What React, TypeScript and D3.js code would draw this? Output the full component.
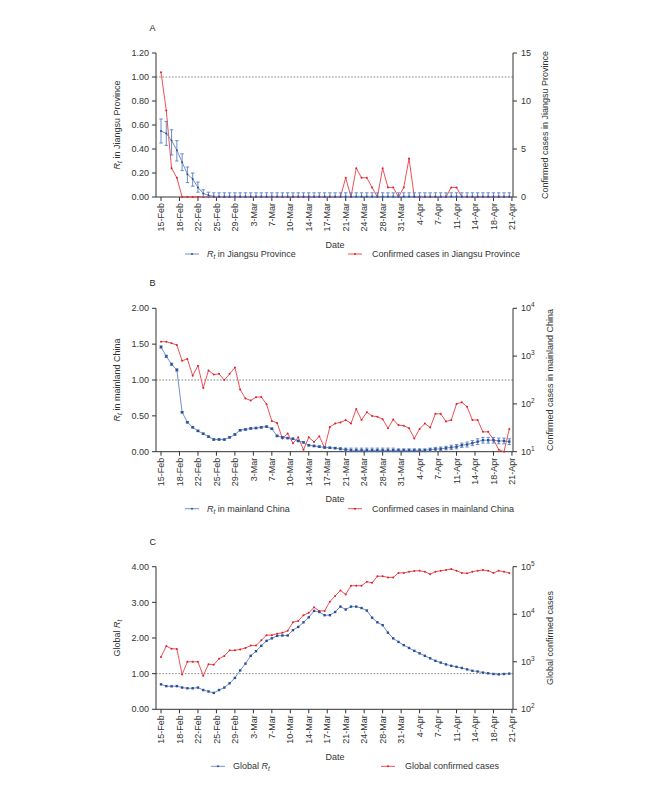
import React from "react";
import * as d3 from "d3";

// ---------- data ----------
const tickLabels = ["15-Feb","18-Feb","22-Feb","25-Feb","29-Feb","3-Mar","7-Mar","10-Mar","14-Mar","17-Mar","21-Mar","24-Mar","28-Mar","31-Mar","4-Apr","7-Apr","11-Apr","14-Apr","18-Apr","21-Apr"];

// Panel A (daily, 15-Feb .. 21-Apr)
const rtJiangsu = [0.55,0.53,0.47,0.39,0.29,0.19,0.15,0.08,0.03,0.014,
  0.005,0.005,0.005,0.005,0.005,0.005,0.005,0.005,0.005,0.005,
  0.005,0.005,0.005,0.005,0.005,0.005,0.005,0.005,0.005,0.005,
  0.005,0.005,0.005,0.005,0.005,0.005,0.005,0.005,0.005,0.005,
  0.005,0.005,0.005,0.005,0.005,0.005,0.005,0.005,0.005,0.005,
  0.005,0.005,0.005,0.005,0.005,0.005,0.005,0.005,0.005,0.005,
  0.005,0.005,0.005,0.005,0.005,0.005,0.005];
const rtJiangsuLo = [0.45,0.43,0.35,0.30,0.22,0.12,0.09,0.04,0.0,0.0,
  0,0,0,0,0,0,0,0,0,0, 0,0,0,0,0,0,0,0,0,0, 0,0,0,0,0,0,0,0,0,0,
  0,0,0,0,0,0,0,0,0,0, 0,0,0,0,0,0,0,0,0,0, 0,0,0,0,0,0,0];
const rtJiangsuHi = [0.65,0.63,0.56,0.47,0.36,0.25,0.20,0.125,0.06,0.04,
  0.035,0.035,0.035,0.035,0.035,0.035,0.035,0.035,0.035,0.035,
  0.035,0.035,0.035,0.035,0.035,0.035,0.035,0.035,0.035,0.035,
  0.035,0.035,0.035,0.035,0.035,0.035,0.035,0.035,0.035,0.035,
  0.035,0.035,0.035,0.035,0.035,0.035,0.035,0.035,0.035,0.035,
  0.035,0.035,0.035,0.035,0.035,0.035,0.035,0.035,0.035,0.035,
  0.035,0.035,0.035,0.035,0.035,0.035,0.035];
const casesJiangsu = [13,9,3,2,0,0,0,0,0,0,
  0,0,0,0,0,0,0,0,0,0,
  0,0,0,0,0,0,0,0,0,0,
  0,0,0,0,0,2,0,3,2,2,
  1,0,3,1,1,0,1,4,0,0,
  0,0,0,0,0,1,1,0,0,0,
  0,0,0,0,0,0,0];

// Panel B
const rtChina = [1.46,1.33,1.22,1.14,0.55,0.41,0.34,0.29,0.25,0.21,
  0.17,0.17,0.17,0.20,0.24,0.30,0.31,0.325,0.33,0.34,
  0.35,0.32,0.22,0.20,0.19,0.18,0.15,0.13,0.09,0.08,
  0.07,0.06,0.055,0.05,0.04,0.03,0.02,0.02,0.02,0.02,
  0.02,0.02,0.02,0.02,0.02,0.02,0.02,0.02,0.02,0.02,
  0.02,0.03,0.035,0.04,0.05,0.06,0.07,0.09,0.10,0.12,
  0.14,0.16,0.16,0.16,0.15,0.15,0.14];
const rtChinaErr = [0.015,0.015,0.015,0.015,0.01,0.01,0.01,0.01,0.01,0.01,
  0.01,0.01,0.01,0.01,0.01,0.01,0.01,0.01,0.01,0.01,
  0.01,0.01,0.01,0.01,0.01,0.01,0.01,0.01,0.01,0.01,
  0.01,0.01,0.01,0.01,0.015,0.02,0.03,0.03,0.03,0.03,
  0.03,0.03,0.03,0.03,0.03,0.02,0.02,0.02,0.02,0.02,
  0.02,0.02,0.025,0.025,0.025,0.03,0.03,0.03,0.035,0.035,
  0.04,0.04,0.04,0.04,0.04,0.04,0.04];
const casesChina = [2000,2000,1860,1700,800,870,390,630,215,500,
  410,425,315,425,575,200,130,118,138,140,
  98,44,40,19,24,15,20,11,20,16,
  21,12,33,39,41,46,39,78,46,67,
  56,54,48,31,47,36,35,31,19,30,
  39,32,62,62,43,46,100,108,87,46,
  46,26,26,18,11,10,30];

// Panel C
const rtGlobal = [0.70,0.65,0.645,0.65,0.61,0.59,0.59,0.61,0.54,0.50,
  0.46,0.54,0.61,0.73,0.88,1.09,1.28,1.50,1.63,1.78,
  1.92,1.99,2.06,2.07,2.07,2.22,2.31,2.44,2.58,2.76,
  2.73,2.64,2.64,2.73,2.88,2.80,2.88,2.88,2.84,2.77,
  2.57,2.44,2.36,2.15,1.99,1.89,1.80,1.72,1.64,1.57,
  1.50,1.43,1.36,1.31,1.26,1.22,1.19,1.16,1.12,1.08,
  1.06,1.03,1.01,0.99,0.98,0.99,1.00];
const casesGlobal = [1260,2140,1880,1860,540,1000,1000,1000,510,890,
  870,1160,1330,1740,1740,1820,1950,2190,2190,2820,
  3630,3630,3890,4070,4470,6760,7240,9550,10720,13960,
  11750,11750,18410,24270,31620,26000,39810,39810,39810,48420,
  45710,63100,63100,59570,59570,74130,74130,78520,81280,82220,
  78520,69180,78520,82220,85110,89130,82220,74130,72440,78520,
  82220,85110,82220,74130,82220,78520,74130];

// ---------- style ----------
const FONT = "'Liberation Sans', Arial, Helvetica, sans-serif";
const AXIS = "#333";
const BLUE_LINE = "#7090cc";
const BLUE_MARK = "#2d4f94";
const BLUE_ERR = "#5a7fc2";
const RED_LINE = "#ef5056";
const RED_MARK = "#d9222b";

const X0 = 156;
const X1 = 513;
const x = d3.scaleLinear().domain([-0.95, 66.7]).range([X0, X1]);
const tickPos = tickLabels.map((_, i) => i * 3.5);

type Title = React.ReactNode;

function RtLabel({ pre, post }: { pre?: string; post?: string }) {
  return (
    <>
      {pre ? <tspan>{pre}</tspan> : null}
      <tspan fontStyle="italic">R</tspan>
      <tspan fontStyle="italic" fontSize="6.5" dy="2">t</tspan>
      <tspan dy="-2">{post || ""}</tspan>
    </>
  );
}

interface PanelProps {
  label: string;
  top: number;
  bottom: number;
  leftMax: number;
  leftTicks: number[];
  rightLog: boolean;
  rightDomain: [number, number];
  rightTicks: number[];
  rt: number[];
  lo?: number[];
  hi?: number[];
  err?: number[];
  cases: number[];
  leftTitle: Title;
  rightTitle: string;
  rightTitleX: number;
  legendBlue: Title;
  legendRed: string;
  legBlueX: number;
  legRedX: number;
  squares: boolean;
}

function Panel(p: PanelProps) {
  const yL = d3.scaleLinear().domain([0, p.leftMax]).range([p.bottom, p.top]);
  const yR = p.rightLog
    ? d3.scaleLog().domain(p.rightDomain).range([p.bottom, p.top]).clamp(true)
    : d3.scaleLinear().domain(p.rightDomain).range([p.bottom, p.top]);
  const idx = p.rt.map((_, i) => i);
  const blueLine = d3.line<number>().x((i) => x(i)).y((i) => yL(p.rt[i]))(idx) || "";
  const redLine = d3.line<number>().x((i) => x(i)).y((i) => yR(p.cases[i]))(idx) || "";
  const mid = (p.top + p.bottom) / 2;
  const fmt = d3.format(".2f");
  const legY = p.bottom + 60;
  return (
    <g>
      <text x={149.5} y={p.top - 22} fontSize="9" fill="#222">{p.label}</text>
      {/* reference line */}
      <line x1={X0} x2={X1} y1={yL(1)} y2={yL(1)} stroke="#777" strokeWidth={0.9} strokeDasharray="1.6,1.6" />
      {/* left axis */}
      <line x1={X0} x2={X0} y1={p.top} y2={p.bottom} stroke={AXIS} strokeWidth={1} />
      {p.leftTicks.map((t) => (
        <g key={"l" + t}>
          <line x1={X0 - 4} x2={X0} y1={yL(t)} y2={yL(t)} stroke={AXIS} />
          <text x={149} y={yL(t)} dy="0.35em" textAnchor="end" fontSize="9" fill="#333">{fmt(t)}</text>
        </g>
      ))}
      {/* right axis */}
      <line x1={X1} x2={X1} y1={p.top} y2={p.bottom} stroke={AXIS} strokeWidth={1} />
      {p.rightTicks.map((t) => (
        <g key={"r" + t}>
          <line x1={X1} x2={X1 + 4} y1={yR(t)} y2={yR(t)} stroke={AXIS} />
          {p.rightLog ? (
            <text x={521} y={yR(t)} dy="0.35em" fontSize="9" fill="#333">
              <tspan>10</tspan>
              <tspan dy="-4" fontSize="6.5">{String(Math.round(Math.log10(t)))}</tspan>
            </text>
          ) : (
            <text x={521} y={yR(t)} dy="0.35em" fontSize="9" fill="#333">{t}</text>
          )}
        </g>
      ))}
      {/* x axis */}
      <line x1={X0} x2={X1} y1={p.bottom} y2={p.bottom} stroke={AXIS} strokeWidth={1} />
      {tickPos.map((t, i) => (
        <g key={"x" + i}>
          <line x1={x(t)} x2={x(t)} y1={p.bottom} y2={p.bottom + 4} stroke={AXIS} />
          <text transform={`translate(${x(t)},${p.bottom + 6}) rotate(-90)`} dy="0.35em" textAnchor="end" fontSize="9" fill="#333">{tickLabels[i]}</text>
        </g>
      ))}
      {/* titles */}
      <text transform={`translate(120,${mid}) rotate(-90)`} textAnchor="middle" fontSize="9" fill="#333">{p.leftTitle}</text>
      <text transform={`translate(${p.rightTitleX},${mid}) rotate(-90)`} textAnchor="middle" fontSize="9" fill="#333">{p.rightTitle}</text>
      <text x={335} y={p.bottom + 50.5} textAnchor="middle" fontSize="9" fill="#333">Date</text>
      {/* red series */}
      <path d={redLine} fill="none" stroke={RED_LINE} strokeWidth={1} />
      {idx.map((i) => (
        <circle key={"rc" + i} cx={x(i)} cy={yR(p.cases[i])} r={1} fill={RED_MARK} />
      ))}
      {/* blue series */}
      {idx.map((i) => {
        const lo = p.lo ? p.lo[i] : p.err ? p.rt[i] - p.err[i] : null;
        const hi = p.hi ? p.hi[i] : p.err ? p.rt[i] + p.err[i] : null;
        if (lo == null || hi == null) return null;
        const cx = x(i);
        return (
          <g key={"e" + i} stroke={BLUE_ERR} strokeWidth={0.9}>
            <line x1={cx} x2={cx} y1={yL(Math.max(0, lo))} y2={yL(hi)} />
            <line x1={cx - 1.7} x2={cx + 1.7} y1={yL(Math.max(0, lo))} y2={yL(Math.max(0, lo))} />
            <line x1={cx - 1.7} x2={cx + 1.7} y1={yL(hi)} y2={yL(hi)} />
          </g>
        );
      })}
      <path d={blueLine} fill="none" stroke={BLUE_LINE} strokeWidth={1} />
      {idx.map((i) =>
        p.squares ? (
          <rect key={"bm" + i} x={x(i) - 1.2} y={yL(p.rt[i]) - 1.2} width={2.4} height={2.4} fill={BLUE_MARK} />
        ) : (
          <circle key={"bm" + i} cx={x(i)} cy={yL(p.rt[i])} r={1} fill={BLUE_MARK} />
        )
      )}
      {/* legend */}
      <line x1={p.legBlueX} x2={p.legBlueX + 14} y1={legY - 3} y2={legY - 3} stroke={BLUE_LINE} strokeWidth={1} />
      <circle cx={p.legBlueX + 7} cy={legY - 3} r={1} fill={BLUE_MARK} />
      <text x={p.legBlueX + 22} y={legY} fontSize="9" fill="#333">{p.legendBlue}</text>
      <line x1={p.legRedX} x2={p.legRedX + 14} y1={legY - 3} y2={legY - 3} stroke={RED_LINE} strokeWidth={1} />
      <circle cx={p.legRedX + 7} cy={legY - 3} r={1} fill={RED_MARK} />
      <text x={p.legRedX + 24} y={legY} fontSize="9" fill="#333">{p.legendRed}</text>
    </g>
  );
}

export default function App() {
  return (
    <svg width={666} height={799} style={{ position: "absolute", left: 0, top: 0, background: "#fff" }} fontFamily={FONT}>
      <rect x={0} y={0} width={666} height={799} fill="#fff" />
      <Panel
        label="A" top={53} bottom={197} leftMax={1.2} leftTicks={[0, 0.2, 0.4, 0.6, 0.8, 1.0, 1.2]}
        rightLog={false} rightDomain={[0, 15]} rightTicks={[0, 5, 10, 15]}
        rt={rtJiangsu} lo={rtJiangsuLo} hi={rtJiangsuHi} cases={casesJiangsu}
        leftTitle={<RtLabel post=" in Jiangsu Province" />}
        rightTitle="Confirmed cases in Jiangsu Province" rightTitleX={547.5}
        legendBlue={<RtLabel post=" in Jiangsu Province" />} legendRed="Confirmed cases in Jiangsu Province"
        legBlueX={185} legRedX={348} squares={false}
      />
      <Panel
        label="B" top={308.3} bottom={451.7} leftMax={2} leftTicks={[0, 0.5, 1.0, 1.5, 2.0]}
        rightLog={true} rightDomain={[10, 10000]} rightTicks={[10, 100, 1000, 10000]}
        rt={rtChina} err={rtChinaErr} cases={casesChina}
        leftTitle={<RtLabel post=" in mainland China" />}
        rightTitle="Confirmed cases in mainland China" rightTitleX={553}
        legendBlue={<RtLabel post=" in mainland China" />} legendRed="Confirmed cases in mainland China"
        legBlueX={185} legRedX={348} squares={true}
      />
      <Panel
        label="C" top={566.7} bottom={709.3} leftMax={4} leftTicks={[0, 1, 2, 3, 4]}
        rightLog={true} rightDomain={[100, 100000]} rightTicks={[100, 1000, 10000, 100000]}
        rt={rtGlobal} cases={casesGlobal}
        leftTitle={<RtLabel pre="Global " />}
        rightTitle="Global confirmed cases" rightTitleX={553}
        legendBlue={<RtLabel pre="Global " />} legendRed="Global confirmed cases"
        legBlueX={211} legRedX={381} squares={true}
      />
    </svg>
  );
}
